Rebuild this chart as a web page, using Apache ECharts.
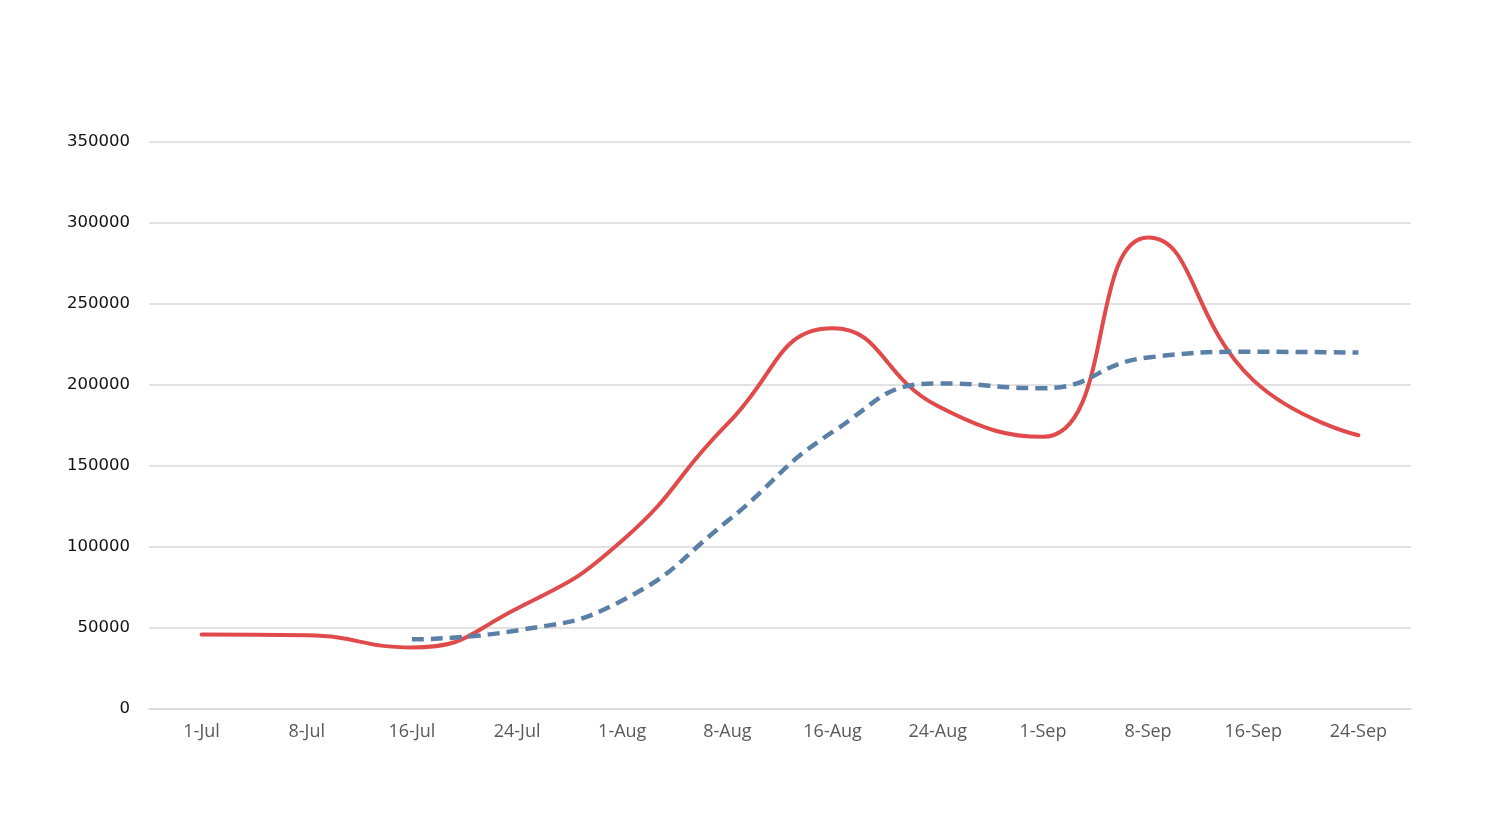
<!DOCTYPE html>
<html><head><meta charset="utf-8">
<script src="https://cdn.jsdelivr.net/npm/echarts@6/dist/echarts.min.js"></script>
<style>html,body{margin:0;padding:0;background:#fff}#c{width:1506px;height:828px}</style>
</head><body><div id="c"></div>
<script>
const categories = ['1-Jul','8-Jul','16-Jul','24-Jul','1-Aug','8-Aug','16-Aug','24-Aug','1-Sep','8-Sep','16-Sep','24-Sep'];
const redValues = [46000,45500,38000,62000,104000,176000,235000,187000,168000,291000,203000,169000];
const blueValues = [null,null,43000,48500,67000,116000,171000,201000,198000,217000,220500,220000];
const yTicks = [0,50000,100000,150000,200000,250000,300000,350000];

const chart = echarts.init(document.getElementById('c'));
chart.setOption({
  animation:false,
  grid:{left:149,right:95,top:142,bottom:119},
  xAxis:{type:'category',data:categories,boundaryGap:true,
    axisLine:{lineStyle:{color:'#d9d9d9',width:1.5}},axisTick:{show:false},
    axisLabel:{color:'#595959',fontFamily:'Open Sans',fontSize:18,margin:14}},
  yAxis:{type:'value',min:yTicks[0],max:yTicks[yTicks.length-1],interval:50000,
    axisLine:{show:false},axisTick:{show:false},
    splitLine:{lineStyle:{color:'#d9d9d9',width:1.5}},
    axisLabel:{color:'#111',fontFamily:'DejaVu Sans',fontSize:16.5,margin:19,
      formatter:function(v){return String(v);}}},
  series:[
    {type:'line',data:redValues,smooth:0.5,showSymbol:false,
      lineStyle:{color:'#e04a4a',width:4,cap:'round'}},
    {type:'line',data:blueValues,smooth:0.5,showSymbol:false,connectNulls:false,
      lineStyle:{color:'#5a80a8',width:4.5,type:[12,7]}}
  ]
});
</script></body></html>
